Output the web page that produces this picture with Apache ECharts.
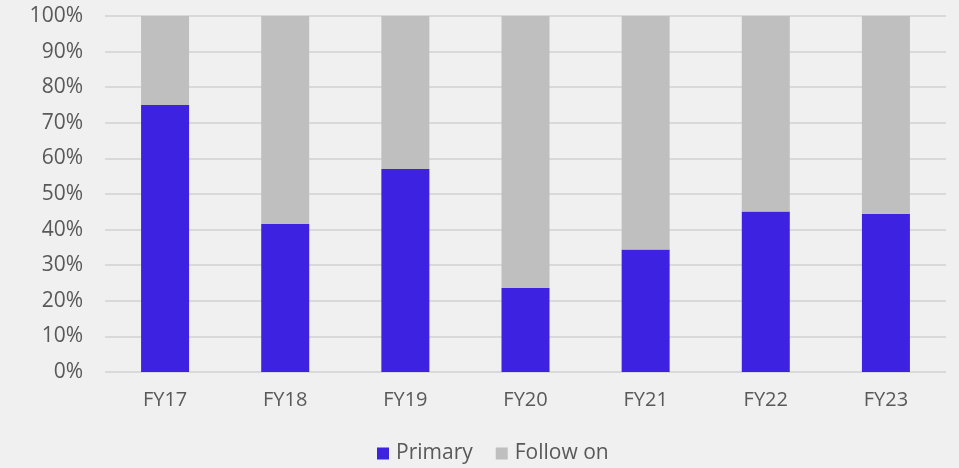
<!DOCTYPE html>
<html>
<head>
<meta charset="utf-8">
<script src="https://cdn.jsdelivr.net/npm/echarts@6/dist/echarts.min.js"></script>
<style>
    html, body { margin: 0; padding: 0; background: #f0f0f0; }
    #chart { width: 959px; height: 468px; }
</style>
</head>
<body>
<div id="chart"></div>
<script>
    const categories = ['FY17', 'FY18', 'FY19', 'FY20', 'FY21', 'FY22', 'FY23'];
    const primary = [75, 41.6, 57, 23.6, 34.4, 45.1, 44.4];
    const followOn = [25, 58.4, 43, 76.4, 65.6, 54.9, 55.6];

    const textColor = '#595959';
    const font = 'Open Sans';

    let myChart = echarts.init(document.getElementById('chart'));
    myChart.setOption({
        backgroundColor: '#f0f0f0',
        animation: false,
        grid: {
            left: 105,
            right: 13,
            top: 16,
            bottom: 96
        },
        xAxis: {
            type: 'category',
            data: categories,
            axisLine: { show: false },
            axisTick: { show: false },
            axisLabel: {
                color: textColor,
                fontFamily: font,
                fontSize: 20,
                margin: 18
            }
        },
        yAxis: {
            type: 'value',
            min: 0,
            max: 100,
            interval: 10,
            axisLine: { show: false },
            axisTick: { show: false },
            axisLabel: {
                color: textColor,
                fontFamily: font,
                fontSize: 21,
                margin: 22,
                formatter: '{value}%'
            },
            splitLine: {
                lineStyle: { color: '#d9d9d9', width: 2 }
            }
        },
        legend: {
            bottom: -1,
            left: 372,
            itemWidth: 12,
            itemHeight: 12,
            itemGap: 23,
            icon: 'rect',
            textStyle: {
                color: textColor,
                fontFamily: font,
                fontSize: 21,
                padding: [0, 0, 0, 2]
            },
            data: ['Primary', 'Follow on']
        },
        series: [
            {
                name: 'Primary',
                type: 'bar',
                stack: 'total',
                barWidth: 48,
                data: primary,
                itemStyle: { color: '#3d23e1' }
            },
            {
                name: 'Follow on',
                type: 'bar',
                stack: 'total',
                barWidth: 48,
                data: followOn,
                itemStyle: { color: '#bfbfbf' }
            }
        ]
    });
</script>
</body>
</html>
